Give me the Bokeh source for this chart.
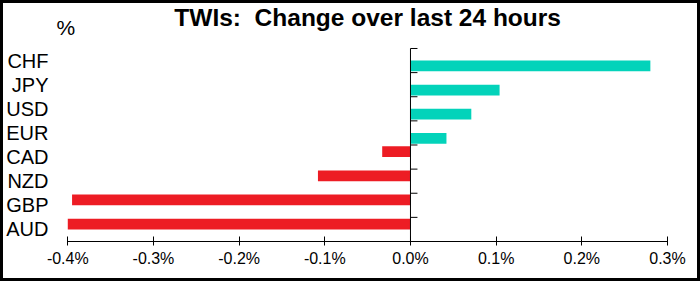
from bokeh.plotting import figure
from bokeh.models import (Range1d, FixedTicker, PrintfTickFormatter, Label,
                          ColumnDataSource)
from bokeh.embed import file_html
from bokeh.resources import INLINE

# ---- data ----
currencies = ["CHF", "JPY", "USD", "EUR", "CAD", "NZD", "GBP", "AUD"]
changes = [0.280, 0.104, 0.071, 0.042, -0.033, -0.108, -0.395, -0.400]
x_ticks = [-0.4, -0.3, -0.2, -0.1, 0.0, 0.1, 0.2, 0.3]
title_text = "TWIs:\u00a0 Change over last 24 hours"
unit_text = "%"

FONT = "Liberation Sans"
TEAL = "#03D3BA"
RED = "#ED1C24"
BAR_H = 0.445          # bar thickness in category bands
TOP_SPACE = 1.865      # room above the categories (in bands) for the title
LEFT_SPACE = 0.0155    # room left of the value axis for the unit label

n = len(currencies)
slot = [n - 1 - i for i in range(n)]          # category position (top = CHF)

pos = ColumnDataSource(dict(y=[s - BAR_H / 2 for s, v in zip(slot, changes) if v >= 0],
                            val=[v for v in changes if v >= 0]))
neg = ColumnDataSource(dict(y=[s + BAR_H / 2 for s, v in zip(slot, changes) if v < 0],
                            val=[v for v in changes if v < 0]))
bounds_src = ColumnDataSource(dict(y=[s + 0.5 for s in slot]))

p = figure(width=700, height=281,
           x_range=Range1d(x_ticks[0] - LEFT_SPACE, x_ticks[-1]),
           y_range=Range1d(-0.5, n - 0.5 + TOP_SPACE),
           output_backend="svg", toolbar_location=None,
           min_border_left=50, min_border_right=36,
           min_border_top=0, min_border_bottom=43)
p.styles = {"border": "3px solid black"}
p.background_fill_color = "white"
p.border_fill_color = "white"
p.outline_line_color = None
p.xgrid.visible = False
p.ygrid.visible = False

# bars
p.hbar(y="y", left=0, right="val", height=BAR_H, source=pos,
       fill_color=TEAL, line_color=None)
p.hbar(y="y", left=0, right="val", height=BAR_H, source=neg,
       fill_color=RED, line_color=None)

# category axis line at zero with ticks at band boundaries
p.segment(x0=[0], x1=[0], y0=[-0.5], y1=[n - 0.5], line_color="black", line_width=1)
tick_len = 7 / (601 / (x_ticks[-1] - x_ticks[0]))
p.segment(x0=0, x1=tick_len, y0="y", y1="y", source=bounds_src,
          line_color="black", line_width=1)

# x axis
xa = p.xaxis[0]
xa.bounds = (x_ticks[0], x_ticks[-1])
xa.ticker = FixedTicker(ticks=x_ticks)
xa.formatter = PrintfTickFormatter(format="%.1f%%")
xa.major_tick_in = 5
xa.major_tick_out = 4
xa.minor_tick_line_color = None
xa.axis_line_color = "black"
xa.major_tick_line_color = "black"
xa.major_label_text_font = FONT
xa.major_label_text_font_size = "16px"
xa.major_label_text_color = "black"
xa.major_label_standoff = 4

# y axis (category labels only)
ya = p.yaxis[0]
ya.ticker = FixedTicker(ticks=slot)
ya.major_label_overrides = {s: c for s, c in zip(slot, currencies)}
ya.axis_line_color = None
ya.major_tick_line_color = None
ya.minor_tick_line_color = None
ya.major_tick_in = 0
ya.major_tick_out = 0
ya.major_label_standoff = 6
ya.major_label_text_font = FONT
ya.major_label_text_font_size = "20px"
ya.major_label_text_color = "black"

# title and unit label
p.add_layout(Label(x=(x_ticks[0] + x_ticks[-1]) / 2, y=n - 0.5 + TOP_SPACE - 0.588,
                   text=title_text, text_font=FONT, text_font_size="24.5px",
                   text_font_style="bold", text_align="center",
                   text_baseline="alphabetic", text_color="black"))
p.add_layout(Label(x=x_ticks[0] - 0.0132, y=n - 0.5 + TOP_SPACE - 0.975,
                   text=unit_text, text_font=FONT, text_font_size="21px",
                   text_baseline="middle", text_align="left", text_color="black"))

open("out.html", "w").write(file_html(p, INLINE))
